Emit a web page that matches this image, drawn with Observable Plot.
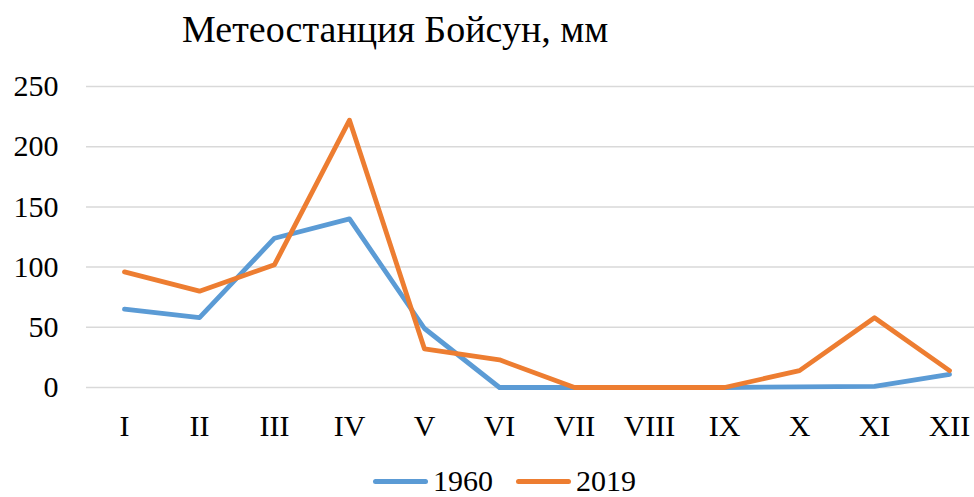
<!DOCTYPE html>
<html>
<head>
<meta charset="utf-8">
<script src="https://cdn.jsdelivr.net/npm/d3@7"></script>
<script src="https://cdn.jsdelivr.net/npm/@observablehq/plot@0.6"></script>
<style>
  html, body { margin: 0; padding: 0; background: #fff; }
  #wrap { position: relative; width: 974px; height: 497px; overflow: hidden; font-family: "Liberation Serif", "Times New Roman", serif; color: #000; }
  #title { position: absolute; left: 182px; top: 10px; font-size: 38px; line-height: 38px; white-space: nowrap; }
  #chart { position: absolute; left: 0; top: 0; }
  #legend { position: absolute; left: 373px; top: 466px; font-size: 30px; line-height: 30px; white-space: nowrap; display: flex; align-items: center; }
  .sw { display: inline-block; width: 55px; height: 5px; border-radius: 3px; margin-right: 5px; }
  .item { display: flex; align-items: center; margin-right: 23px; }
</style>
</head>
<body>
<div id="wrap">
  <div id="chart"></div>
  <div id="title">Метеостанция Бойсун, мм</div>
  <div id="legend"></div>
</div>
<script>
const months = ["I","II","III","IV","V","VI","VII","VIII","IX","X","XI","XII"];
const values1960 = [65, 58, 124, 140, 49, 0, 0, 0, 0, 0.5, 1, 11];
const values2019 = [96, 80, 102, 222, 32, 23, 0, 0, 0, 14, 58, 14];
const yTicks = [0, 50, 100, 150, 200, 250];
const seriesNames = ["1960", "2019"];
const colors = ["#5b9bd5", "#ed7d31"];

const data = [];
months.forEach((m, i) => {
  data.push({month: m, value: values1960[i], series: seriesNames[0]});
  data.push({month: m, value: values2019[i], series: seriesNames[1]});
});

const plot = Plot.plot({
  width: 974,
  height: 497,
  marginTop: 86,
  marginBottom: 110,
  marginLeft: 86,
  marginRight: 0,
  style: {fontFamily: '"Liberation Serif", "Times New Roman", serif', fontSize: "30px", color: "#000", background: "transparent", overflow: "visible"},
  x: {type: "point", domain: months, range: [86, 986], padding: 0.5},
  y: {domain: [0, 250]},
  color: {domain: seriesNames, range: colors},
  marks: [
    Plot.ruleY(yTicks, {stroke: "#d9d9d9", strokeWidth: 1.5}),
    Plot.axisY(yTicks, {tickSize: 0, tickPadding: 28, fontSize: 30, label: null}),
    Plot.axisX({tickSize: 0, tickPadding: 27, fontSize: 30, label: null}),
    Plot.line(data, {x: "month", y: "value", z: "series", stroke: "series", strokeWidth: 4.8, strokeLinecap: "round", strokeLinejoin: "round"})
  ]
});
document.getElementById("chart").appendChild(plot);

const legend = document.getElementById("legend");
seriesNames.forEach((s, i) => {
  const item = document.createElement("span");
  item.className = "item";
  const sw = document.createElement("span");
  sw.className = "sw";
  sw.style.background = colors[i];
  item.appendChild(sw);
  item.appendChild(document.createTextNode(s));
  legend.appendChild(item);
});
</script>
</body>
</html>
